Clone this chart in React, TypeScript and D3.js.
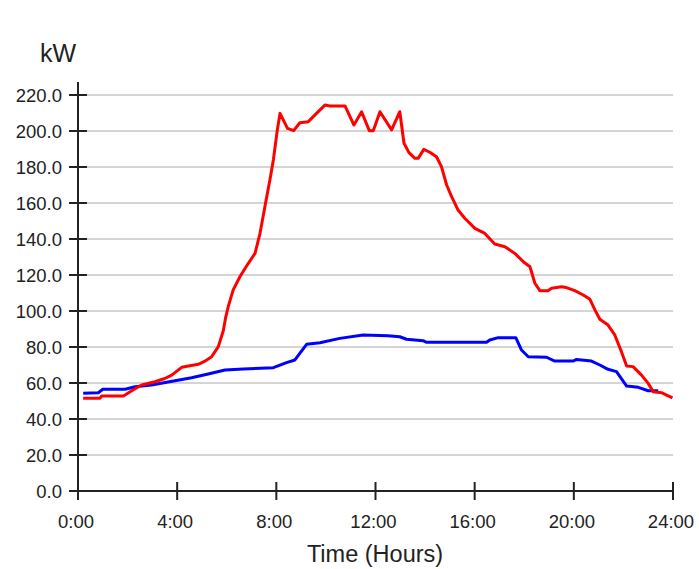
import { useEffect, useRef } from 'react';
import * as d3 from 'd3';

// hours of day and kW readings
const redHours = [
	0.21, 0.89, 0.95, 1.83, 2.2, 2.57, 3.1, 3.5, 3.78, 4.18, 4.85, 5.1, 5.39, 5.66, 5.86, 5.95,
	6.06, 6.26, 6.53, 6.87, 7.14, 7.34, 7.54, 7.74, 7.88, 8.04, 8.15, 8.45, 8.7, 8.95, 9.29,
	9.62, 9.96, 10.16, 10.77, 11.13, 11.44, 11.75, 11.91, 12.18, 12.65, 12.98, 13.15, 13.35,
	13.59, 13.72, 13.95, 14.19, 14.46, 14.66, 14.87, 15.07, 15.33, 15.6, 16.01, 16.41, 16.81,
	17.22, 17.62, 17.96, 18.23, 18.43, 18.63, 18.96, 19.1, 19.5, 19.7, 20.04, 20.38, 20.65,
	20.85, 21.05, 21.38, 21.65, 21.92, 22.13, 22.39, 22.73, 23.0, 23.2, 23.54, 23.74, 23.98,
];
const redKw = [
	51.5, 51.5, 52.8, 52.8, 56, 58.9, 60.7, 62.5, 64.4, 68.7, 70.4, 72, 74.6, 80.2, 89, 96,
	102.4, 111.7, 119, 126.5, 132, 143, 158, 172.8, 183.9, 200.6, 209.8, 201.5, 200.2, 204.6,
	205.2, 209.8, 214.4, 213.9, 213.9, 203.3, 210.7, 200.2, 200.2, 210.7, 200.6, 210.7, 193.2,
	188, 184.8, 184.8, 189.8, 188.2, 185.7, 180.2, 170, 163.5, 156.1, 151.5, 145.9, 143.1,
	137.2, 135.7, 132, 127.4, 124.6, 115.4, 111.3, 111.3, 112.6, 113.5, 113, 111.3, 108.9,
	106.5, 100.6, 95.4, 92.2, 86.7, 77.4, 69.4, 69.1, 64.4, 59.8, 55.2, 54.6, 53.3, 51.8,
];

const blueHours = [
	0.21, 0.82, 1.0, 1.9, 2.3, 2.97, 3.91, 4.58, 5.25, 5.93, 6.67, 7.88, 8.41, 8.75, 9.22,
	9.76, 10.56, 11.5, 12.5, 12.98, 13.25, 13.92, 14.06, 16.48, 16.61, 16.95, 17.66, 17.89,
	18.16, 18.9, 19.23, 19.97, 20.11, 20.71, 21.05, 21.38, 21.72, 22.13, 22.6, 23.0, 23.4,
];
const blueKw = [
	54.3, 54.6, 56.5, 56.5, 57.9, 58.9, 61.3, 62.9, 65, 67.2, 67.8, 68.5, 71.3, 72.8, 81.5,
	82.4, 84.8, 86.7, 86.2, 85.7, 84.3, 83.5, 82.6, 82.6, 83.9, 85.2, 85.2, 78.3, 74.6, 74.3,
	72.2, 72.2, 73.1, 72.2, 70, 67.6, 66.3, 58.3, 57.6, 55.7, 55.7,
];

const yTicks = [0, 20, 40, 60, 80, 100, 120, 140, 160, 180, 200, 220];
const xTicks = [0, 4, 8, 12, 16, 20, 24];

const App = () => {
	const svgRef = useRef<SVGSVGElement>(null);

	const width = 699;
	const height = 569;
	const margin = { top: 95, right: 26, bottom: 78, left: 78 };
	const font = '"Liberation Sans", Arial, sans-serif';

	useEffect(() => {
		if (!svgRef.current) return;
		const svg = d3.select(svgRef.current);
		svg.selectAll('*').remove();

		const x = d3.scaleLinear().domain([0, 24]).range([margin.left, width - margin.right]);
		const y = d3.scaleLinear().domain([0, 220]).range([height - margin.bottom, margin.top]);

		const x0 = x(0);
		const y0 = y(0);

		// grid
		svg
			.append('g')
			.selectAll('line')
			.data(yTicks.filter((d) => d > 0))
			.enter()
			.append('line')
			.attr('x1', x0)
			.attr('x2', x(24))
			.attr('y1', (d) => y(d))
			.attr('y2', (d) => y(d))
			.attr('stroke', '#d4d4d4')
			.attr('stroke-width', 2);

		// y axis
		const yAxis = svg.append('g');
		yAxis
			.append('line')
			.attr('x1', x0)
			.attr('x2', x0)
			.attr('y1', y(220) - 13)
			.attr('y2', y0 + 9)
			.attr('stroke', '#222')
			.attr('stroke-width', 2);
		yAxis
			.selectAll('.tick')
			.data(yTicks)
			.enter()
			.append('line')
			.attr('x1', x0 - 9)
			.attr('x2', (d) => (d === 0 ? x0 : x0 + 9))
			.attr('y1', (d) => y(d))
			.attr('y2', (d) => y(d))
			.attr('stroke', '#222')
			.attr('stroke-width', 2);
		yAxis
			.selectAll('text')
			.data(yTicks)
			.enter()
			.append('text')
			.attr('x', 62)
			.attr('y', (d) => y(d))
			.attr('dy', '0.36em')
			.attr('text-anchor', 'end')
			.attr('font-family', font)
			.attr('font-size', 18.5)
			.attr('fill', '#222')
			.text((d) => d3.format('.1f')(d));

		// x axis
		const xAxis = svg.append('g');
		xAxis
			.append('line')
			.attr('x1', x0)
			.attr('x2', x(24))
			.attr('y1', y0)
			.attr('y2', y0)
			.attr('stroke', '#222')
			.attr('stroke-width', 2);
		xAxis
			.selectAll('.tick')
			.data(xTicks.filter((d) => d > 0))
			.enter()
			.append('line')
			.attr('x1', (d) => x(d))
			.attr('x2', (d) => x(d))
			.attr('y1', y0 - 9)
			.attr('y2', y0 + 9)
			.attr('stroke', '#222')
			.attr('stroke-width', 2);
		xAxis
			.selectAll('text')
			.data(xTicks)
			.enter()
			.append('text')
			.attr('x', (d) => x(d) - 2)
			.attr('y', 528)
			.attr('text-anchor', 'middle')
			.attr('font-family', font)
			.attr('font-size', 18.5)
			.attr('fill', '#222')
			.text((d) => `${d}:00`);

		// axis titles
		svg
			.append('text')
			.attr('x', 40)
			.attr('y', 62)
			.attr('font-family', font)
			.attr('font-size', 25)
			.attr('fill', '#222')
			.text('kW');
		svg
			.append('text')
			.attr('x', 375)
			.attr('y', 562)
			.attr('text-anchor', 'middle')
			.attr('font-family', font)
			.attr('font-size', 23.5)
			.attr('fill', '#222')
			.text('Time (Hours)');

		const line = d3
			.line<[number, number]>()
			.x((d) => x(d[0]))
			.y((d) => y(d[1]));

		const series = [
			{ hours: blueHours, kw: blueKw, color: '#0000ff' },
			{ hours: redHours, kw: redKw, color: '#ff0000' },
		];

		series.forEach((s) => {
			const pts = s.hours.map((h, i) => [h, s.kw[i]] as [number, number]);
			svg
				.append('path')
				.datum(pts)
				.attr('fill', 'none')
				.attr('stroke', s.color)
				.attr('stroke-width', 3)
				.attr('stroke-linejoin', 'round')
				.attr('d', line);
		});
	}, []);

	return (
		<div style={{ position: 'absolute', left: 0, top: 0 }}>
			<svg ref={svgRef} width={width} height={height} style={{ display: 'block', background: '#fff' }}></svg>
		</div>
	);
};

export default App;
